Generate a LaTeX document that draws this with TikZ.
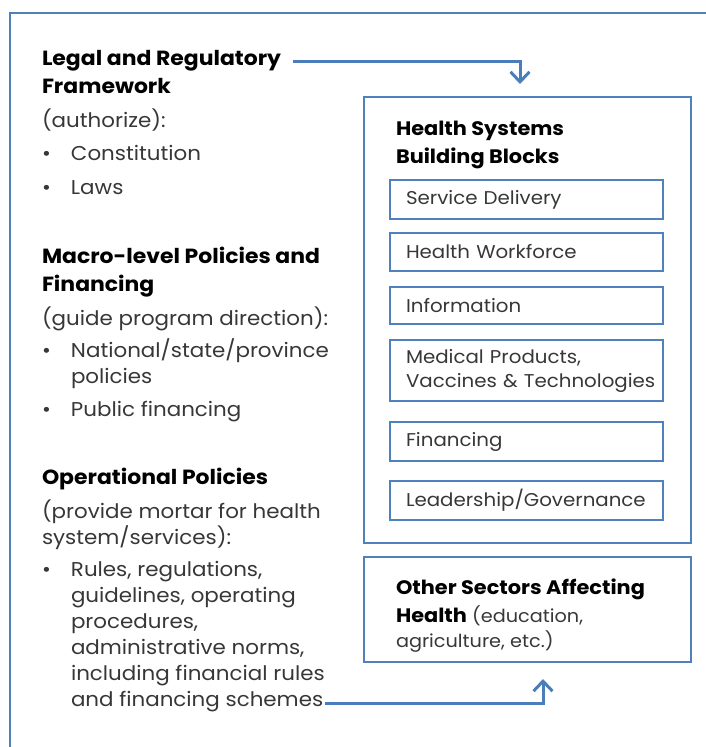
\documentclass[tikz,border=0pt]{standalone}
\usepackage{fontspec}
\setmainfont{Poppins}[FakeStretch=1.07]
\usetikzlibrary{arrows.meta}

\definecolor{frameblue}{RGB}{79,129,189}
\definecolor{linkblue}{RGB}{74,126,187}
\definecolor{textgray}{RGB}{55,55,55}

\newcommand{\bul}{\makebox[29pt][l]{\textbullet}}
\newcommand{\ind}{\hspace*{29pt}}

\begin{document}
\begin{tikzpicture}[x=1pt,y=-1pt,every node/.style={inner sep=0pt,outer sep=0pt}]

\tikzstyle{head}=[anchor=base west, align=left, font=\bfseries\fontsize{20.5}{28}\selectfont]
\tikzstyle{body}=[anchor=north west, align=left, text=textgray, font=\fontsize{20}{26}\selectfont]
\tikzstyle{block}=[draw=frameblue, line width=1.6pt, anchor=north west, align=left,
                   minimum width=273pt, text width=241pt, inner xsep=16pt,
                   text=textgray, font=\fontsize{18.5}{24}\selectfont]
\tikzstyle{frame}=[draw=frameblue, line width=1.6pt, anchor=north west]
\tikzstyle{link}=[draw=linkblue, line width=3pt, -{Straight Barb[length=10pt,width=19pt,line width=3pt]}]

\useasboundingbox (0,0) rectangle (705,747);

% outer frame, runs off the page on the right and below
\draw[frameblue, line width=1.6pt] (10,760) -- (10,13) -- (720,13);

% left column
\node[head] (legal) at (42,65) {Legal and Regulatory};
\node[head] (legal2) at (42,93) {Framework};
\node[body] (legalsub) at (42,109) {(authorize):\\[7pt]
  \bul Constitution\\[8pt]
  \bul Laws};

\node[head] (macro) at (42,263) {Macro-level Policies and};
\node[head] (macro2) at (42,291) {Financing};
\node[body] (macrosub) at (42,307) {(guide program direction):\\[6pt]
  \bul National/state/province\\
  \ind policies\\[7pt]
  \bul Public financing};

\node[head] (oper) at (42,484) {Operational Policies};
\node[body] (opersub) at (42,500) {(provide mortar for health\\
  system/services):\\[6pt]
  \bul Rules, regulations,\\
  \ind guidelines, operating\\
  \ind procedures,\\
  \ind administrative norms,\\
  \ind including financial rules\\
  \ind and financing schemes};

% building blocks
\node[frame, minimum width=327pt, minimum height=446pt] (hsbb) at (364,97) {};
\node[head, anchor=north west, font=\bfseries\fontsize{19.5}{28}\selectfont] (hsbbtitle) at (396,121) {Health Systems\\Building Blocks};

\node[block, minimum height=39pt] (service) at (390,180) {Service Delivery};
\node[block, minimum height=38pt] (workforce) at (390,233) {Health Workforce};
\node[block, minimum height=37pt] (info) at (390,287) {Information};
\node[block, minimum height=61pt] (medical) at (390,340) {Medical Products,\\\mbox{Vaccines \& Technologies}};
\node[block, minimum height=39pt] (financing) at (390,422) {Financing};
\node[block, minimum height=39pt] (leader) at (390,481) {Leadership/Governance};

% other sectors
\node[frame, minimum width=327pt, minimum height=105pt] (other) at (364,557) {};
\node[anchor=north west, align=left, text=textgray, font=\fontsize{18}{25}\selectfont] (othertext) at (396,579)
  {\textcolor{black}{\bfseries\fontsize{19.5}{27}\selectfont Other Sectors Affecting}\\[3pt]
   \textcolor{black}{\bfseries\fontsize{19.5}{26}\selectfont Health} (education,\\
   agriculture, etc.)};

% links into the right column
\coordinate (in1) at (520,84);
\coordinate (in2) at (543,679);
\draw[link] ([xshift=12pt,yshift=-1pt]legal.east) -| (in1);
\draw[link] ([yshift=9pt]opersub.south east) -| (in2);

\end{tikzpicture}
\end{document}
